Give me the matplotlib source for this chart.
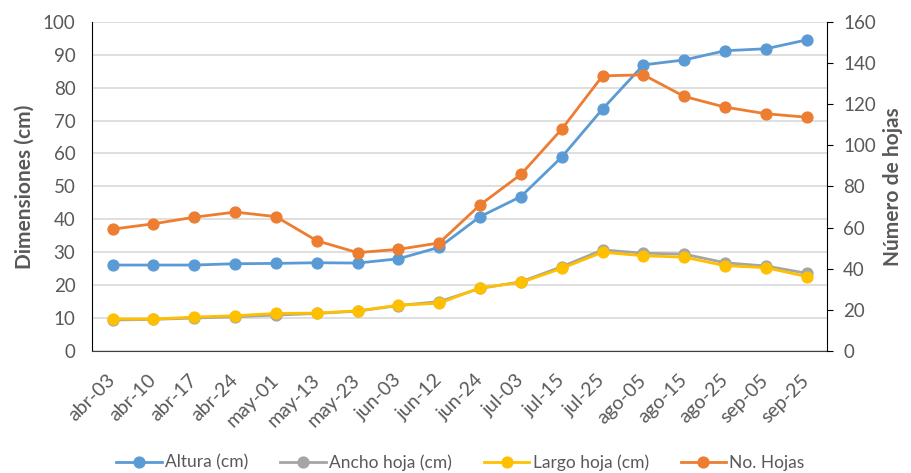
import matplotlib
matplotlib.use("Agg")
import matplotlib.pyplot as plt

plt.rcParams['font.family'] = ['Lato', 'DejaVu Sans']

fechas = ['abr-03', 'abr-10', 'abr-17', 'abr-24', 'may-01', 'may-13', 'may-23',
          'jun-03', 'jun-12', 'jun-24', 'jul-03', 'jul-15', 'jul-25', 'ago-05',
          'ago-15', 'ago-25', 'sep-05', 'sep-25']
altura = [26.1, 26.1, 26.1, 26.5, 26.6, 26.8, 26.7, 28.0, 31.5, 40.8, 46.9, 58.9,
          73.5, 86.9, 88.4, 91.2, 91.8, 94.5]
ancho = [9.4, 9.6, 10.0, 10.4, 10.9, 11.4, 12.1, 13.8, 15.0, 19.0, 21.0, 25.6,
         30.7, 29.7, 29.4, 26.8, 25.8, 23.6]
largo = [9.7, 9.7, 10.3, 10.7, 11.4, 11.5, 12.2, 13.9, 14.5, 19.2, 20.8, 25.1,
         30.0, 28.9, 28.5, 25.9, 25.3, 22.6]
hojas = [59.2, 61.8, 65.0, 67.5, 65.3, 53.6, 47.8, 49.4, 52.5, 71.0, 85.8, 107.8,
         133.7, 134.2, 123.7, 118.5, 115.3, 113.6]

txt = '#595959'
x = range(len(fechas))

fig = plt.figure(figsize=(9.12, 4.73), dpi=100)
ax = fig.add_axes([0.101, 0.258, 0.806, 0.696])
ax2 = ax.twinx()

kw = dict(marker='o', markersize=7.8, linewidth=2.0)
l1, = ax.plot(x, altura, color='#5B9BD5', label='Altura (cm)', **kw)
l2, = ax.plot(x, ancho, color='#A5A5A5', label='Ancho hoja (cm)', **kw)
l3, = ax.plot(x, largo, color='#FFC000', label='Largo hoja (cm)', **kw)
l4, = ax2.plot(x, hojas, color='#ED7D31', label='No. Hojas', **kw)

ax.set_xlim(-0.5, len(fechas) - 0.5)
ax.set_ylim(0, 100)
ax.set_yticks(range(0, 101, 10))
ax2.set_ylim(0, 160)
ax2.set_yticks(range(0, 161, 20))

ax.grid(axis='y', color='#D9D9D9', linewidth=1.2)
ax.set_axisbelow(True)

ax.set_xticks(list(x))
ax.set_xticklabels(fechas, rotation=45, ha='right', va='center', rotation_mode='anchor')

for a in (ax, ax2):
    a.spines['top'].set_visible(False)
    a.tick_params(labelsize=13.5, colors=txt)
ax.spines['right'].set_visible(False)
ax2.spines['left'].set_visible(False)
ax2.spines['bottom'].set_visible(False)
ax.spines['left'].set_color('#000000')
ax.spines['bottom'].set_color('#404040')
ax2.spines['right'].set_color('#000000')
ax.tick_params(axis='y', length=0, pad=12)
ax.tick_params(axis='x', length=0, pad=19, labelsize=14)
ax2.tick_params(axis='y', length=4.5, direction='out', color='#000000', pad=7)

ax.set_ylabel('Dimensiones (cm)', fontsize=15, fontweight='bold', color=txt, labelpad=6)
ax2.set_ylabel('Número de hojas', fontsize=15, fontweight='bold', color=txt, labelpad=5)

fig.legend(handles=[l1, l2, l3, l4], loc='lower center', bbox_to_anchor=(0.505, -0.028),
           ncol=4, frameon=False, fontsize=12.5, labelcolor=txt, handlelength=2.6,
           handletextpad=0.2, columnspacing=1.85)

fig.savefig('out.png', dpi=100)
